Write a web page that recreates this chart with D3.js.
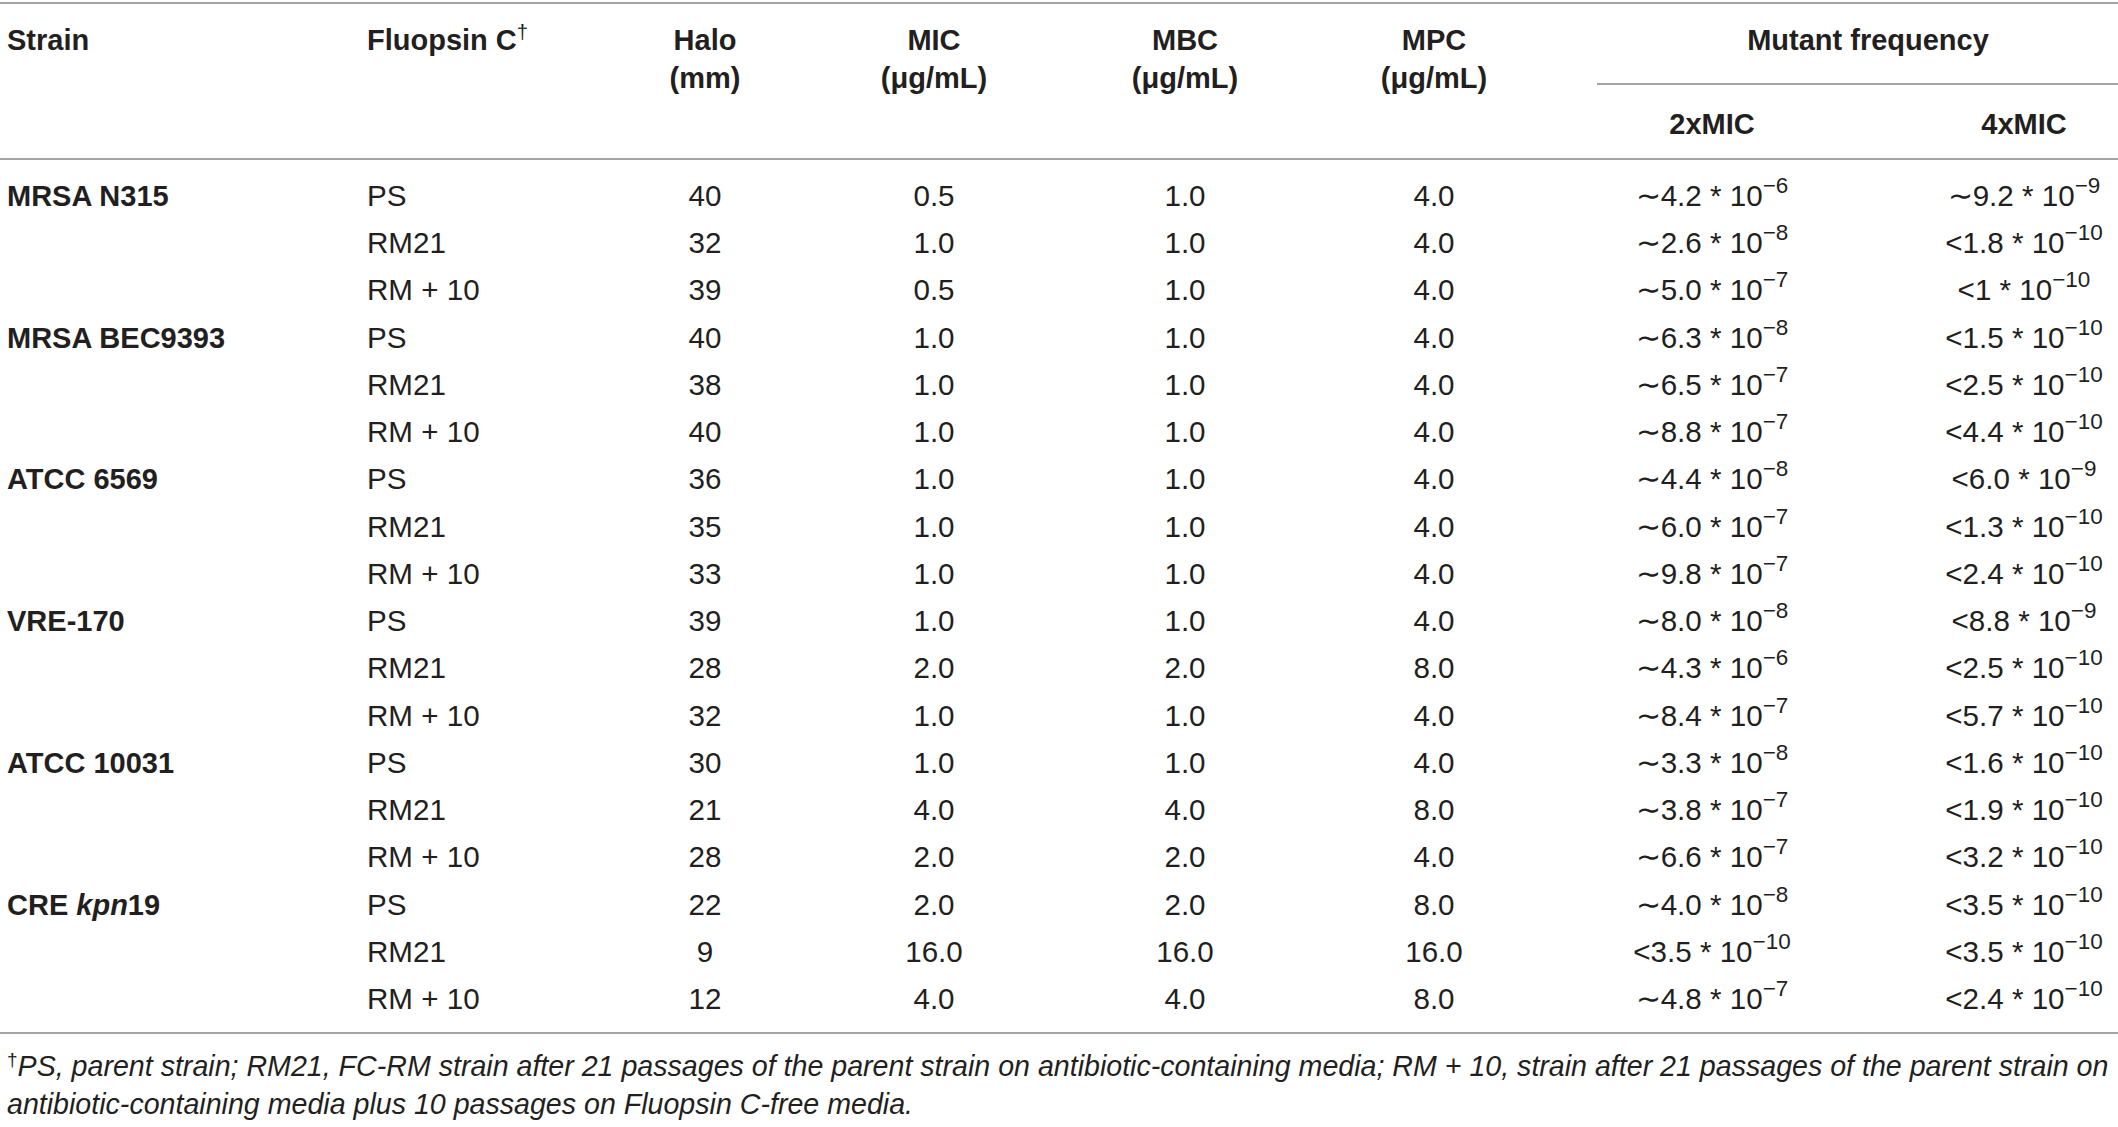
<!DOCTYPE html>
<html><head><meta charset="utf-8">
<script src="https://cdn.jsdelivr.net/npm/d3@7/dist/d3.min.js"></script>
<style>
html,body{margin:0;padding:0;background:#fff;}
svg{display:block;font-family:"Liberation Sans",Arial,Helvetica,sans-serif;}
</style></head>
<body>
<svg id="c" width="2118" height="1127"></svg>
<script>
// ---- data ----
const strains = ["MRSA N315","MRSA BEC9393","ATCC 6569","VRE-170","ATCC 10031","CRE kpn19"];
const fluopsin = ["PS","RM21","RM + 10"];
const halo = [40,32,39,40,38,40,36,35,33,39,28,32,30,21,28,22,9,12];
const mic  = [0.5,1.0,0.5,1.0,1.0,1.0,1.0,1.0,1.0,1.0,2.0,1.0,1.0,4.0,2.0,2.0,16.0,4.0];
const mbc  = [1.0,1.0,1.0,1.0,1.0,1.0,1.0,1.0,1.0,1.0,2.0,1.0,1.0,4.0,2.0,2.0,16.0,4.0];
const mpc  = [4.0,4.0,4.0,4.0,4.0,4.0,4.0,4.0,4.0,4.0,8.0,4.0,4.0,8.0,4.0,8.0,16.0,8.0];
const mf2x = ["~4.2e-6","~2.6e-8","~5.0e-7","~6.3e-8","~6.5e-7","~8.8e-7","~4.4e-8","~6.0e-7","~9.8e-7",
              "~8.0e-8","~4.3e-6","~8.4e-7","~3.3e-8","~3.8e-7","~6.6e-7","~4.0e-8","<3.5e-10","~4.8e-7"];
const mf4x = ["~9.2e-9","<1.8e-10","<1e-10","<1.5e-10","<2.5e-10","<4.4e-10","<6.0e-9","<1.3e-10","<2.4e-10",
              "<8.8e-9","<2.5e-10","<5.7e-10","<1.6e-10","<1.9e-10","<3.2e-10","<3.5e-10","<3.5e-10","<2.4e-10"];
const headers = [
  {key:"strain", lines:["Strain"]},
  {key:"fc", lines:["Fluopsin C"], dagger:true},
  {key:"halo", lines:["Halo","(mm)"]},
  {key:"mic", lines:["MIC","(\u03BCg/mL)"]},
  {key:"mbc", lines:["MBC","(\u03BCg/mL)"]},
  {key:"mpc", lines:["MPC","(\u03BCg/mL)"]}
];
const groupHeader = "Mutant frequency";
const subHeaders = ["2xMIC","4xMIC"];
const footnote = [
  "PS, parent strain; RM21, FC-RM strain after 21 passages of the parent strain on antibiotic-containing media; RM + 10, strain after 21 passages of the parent strain on",
  "antibiotic-containing media plus 10 passages on Fluopsin C-free media."
];

// ---- layout ----
const W = 2118, H = 1127;
const fs = 29, fsReg = 29.6, ink = "#231f20", rule = "#a3a3a3";
const colX = {strain:7, fc:367, halo:705, mic:934, mbc:1185, mpc:1434, mf2:1712, mf4:2024};
const colAnchor = {strain:"start", fc:"start", halo:"middle", mic:"middle", mbc:"middle", mpc:"middle", mf2:"middle", mf4:"middle"};
const nRows = halo.length;
const y = d3.scaleLinear().domain([0, nRows-1]).range([196, 999]);
const svg = d3.select("#c");

function hline(x1,x2,yy){
  svg.append("line").attr("x1",x1).attr("x2",x2).attr("y1",yy).attr("y2",yy)
    .attr("stroke",rule).attr("stroke-width",2);
}
hline(0,W,3);
hline(colX.mf2-115,W,84);
hline(0,W,159);
hline(0,W,1033);

// header
const hdr = svg.append("g").attr("font-weight","bold").attr("fill",ink).attr("font-size",fs);
headers.forEach(h=>{
  h.lines.forEach((ln,i)=>{
    const t = hdr.append("text").attr("x",colX[h.key]).attr("y",40+i*38+10)
      .attr("text-anchor",colAnchor[h.key]).text(ln);
    if(h.dagger){
      t.append("tspan").attr("dy",-11).attr("font-size",fs*0.7).attr("font-weight","normal").text("\u2020");
    }
  });
});
hdr.append("text").attr("x",(colX.mf2+colX.mf4)/2).attr("y",50).attr("text-anchor","middle").text(groupHeader);
subHeaders.forEach((s,i)=>{
  hdr.append("text").attr("x",i? colX.mf4 : colX.mf2).attr("y",134).attr("text-anchor","middle").text(s);
});

// body
const body = svg.append("g").attr("fill",ink).attr("font-size",fsReg);
function sci(sel, s){
  const prefix = s[0]==="~" ? "\u223C" : "<";
  const parts = s.slice(1).split("e");
  const m = parts[0], e = parts[1];
  sel.append("tspan").text(prefix + m + " * 10");
  sel.append("tspan").attr("dy",-13).attr("font-size",fsReg*0.76).text("\u2212" + e.slice(1));
}
const rows = d3.range(nRows);
const rg = body.selectAll("g.row").data(rows).join("g").attr("class","row")
  .attr("transform", i=>`translate(0,${y(i)+10})`);

rg.filter(i=>i%3===0).append("text").attr("x",colX.strain).attr("font-weight","bold").attr("font-size",fs)
  .each(function(i){
    const name = strains[i/3];
    const sel = d3.select(this);
    if(name.indexOf("kpn")>=0){
      sel.append("tspan").text("CRE ");
      sel.append("tspan").attr("font-style","italic").text("kpn");
      sel.append("tspan").text("19");
    } else sel.text(name);
  });
rg.append("text").attr("x",colX.fc).text(i=>fluopsin[i%3]);
rg.append("text").attr("x",colX.halo).attr("text-anchor","middle").text(i=>halo[i]);
rg.append("text").attr("x",colX.mic).attr("text-anchor","middle").text(i=>mic[i].toFixed(1));
rg.append("text").attr("x",colX.mbc).attr("text-anchor","middle").text(i=>mbc[i].toFixed(1));
rg.append("text").attr("x",colX.mpc).attr("text-anchor","middle").text(i=>mpc[i].toFixed(1));
rg.append("text").attr("x",colX.mf2).attr("text-anchor","middle").each(function(i){sci(d3.select(this),mf2x[i]);});
rg.append("text").attr("x",colX.mf4).attr("text-anchor","middle").each(function(i){sci(d3.select(this),mf4x[i]);});

// footnote
const fn = svg.append("g").attr("fill",ink).attr("font-size",28.6).attr("font-style","italic");
footnote.forEach((ln,i)=>{
  const t = fn.append("text").attr("x",7).attr("y",1076+i*38);
  if(i===0){
    t.append("tspan").attr("dy",-10).attr("font-size",19).attr("font-style","normal").text("\u2020");
    t.append("tspan").attr("dy",10).text(ln);
  } else t.text(ln);
});
</script>
</body></html>
